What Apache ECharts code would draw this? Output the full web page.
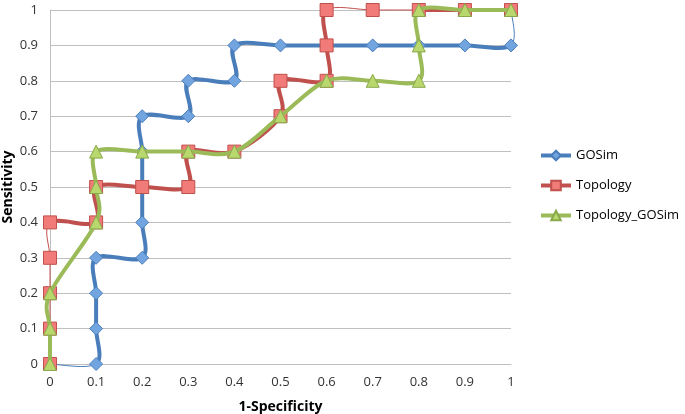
<!DOCTYPE html>
<html>
<head>
<meta charset="utf-8">
<script src="https://cdn.jsdelivr.net/npm/echarts@6/dist/echarts.min.js"></script>
<style>html,body{margin:0;padding:0;background:#fff;}#c{width:685px;height:414px;}</style>
</head>
<body>
<div id="c"></div>
<script>
var seriesNames = ['GOSim', 'Topology', 'Topology_GOSim'];
var gosim = [[0,0],[0.1,0],[0.1,0.1],[0.1,0.2],[0.1,0.3],[0.2,0.3],[0.2,0.4],[0.2,0.5],[0.2,0.6],[0.2,0.7],[0.3,0.7],[0.3,0.8],[0.4,0.8],[0.4,0.9],[0.5,0.9],[0.6,0.9],[0.7,0.9],[0.8,0.9],[0.9,0.9],[1,0.9],[1,1]];
var topology = [[0,0],[0,0.1],[0,0.2],[0,0.3],[0,0.4],[0.1,0.4],[0.1,0.5],[0.2,0.5],[0.3,0.5],[0.3,0.6],[0.4,0.6],[0.5,0.7],[0.5,0.8],[0.6,0.8],[0.6,0.9],[0.6,1],[0.7,1],[0.8,1],[0.9,1],[1,1]];
var topoGosim = [[0,0],[0,0.1],[0,0.2],[0.1,0.4],[0.1,0.5],[0.1,0.6],[0.2,0.6],[0.3,0.6],[0.4,0.6],[0.5,0.7],[0.6,0.8],[0.7,0.8],[0.8,0.8],[0.8,0.9],[0.8,1],[0.9,1],[1,1]];
// segments (by start index) that the reference draws with a hairline
var thinGosim = [0, 19];
var thinTopology = [0, 1, 2, 3, 15, 16];
var thinTopoGosim = [];

var chart = echarts.init(document.getElementById('c'));
var font = 'Open Sans, DejaVu Sans, sans-serif';
var colors = {
  GOSim: {line: '#4A7EBB', fill: '#72A5E0', border: '#4A7EBB'},
  Topology: {line: '#C0504D', fill: '#F07B78', border: '#C0504D'},
  Topology_GOSim: {line: '#9BBB59', fill: '#B8D86E', border: '#8AA84C'}
};

function curveSeries(name, data, thin, z) {
  var c = colors[name].line;
  return {
    name: name + '_curve', type: 'custom', z: z, silent: true,
    data: [[data[0][0], data[0][1]]],
    renderItem: function (params, api) {
      var p = data.map(function (d) { return api.coord(d); });
      var n = p.length, t = 1 / 6, kids = [];
      for (var i = 0; i < n - 1; i++) {
        var p0 = p[Math.max(i - 1, 0)], p1 = p[i], p2 = p[i + 1], p3 = p[Math.min(i + 2, n - 1)];
        kids.push({
          type: 'bezierCurve',
          shape: {
            x1: p1[0], y1: p1[1], x2: p2[0], y2: p2[1],
            cpx1: p1[0] + (p2[0] - p0[0]) * t, cpy1: p1[1] + (p2[1] - p0[1]) * t,
            cpx2: p2[0] - (p3[0] - p1[0]) * t, cpy2: p2[1] - (p3[1] - p1[1]) * t
          },
          style: {stroke: c, fill: null, lineWidth: thin.indexOf(i) >= 0 ? 1 : 4, lineCap: 'round'}
        });
      }
      return {type: 'group', children: kids};
    }
  };
}
function markerSeries(name, data, symbol, size, z) {
  var c = colors[name];
  return {
    name: name, type: 'line', data: data, z: z,
    symbol: symbol, symbolSize: size,
    lineStyle: {width: 0, color: c.line},
    itemStyle: {color: c.fill, borderColor: c.border, borderWidth: 1},
    emphasis: {disabled: true}
  };
}
chart.setOption({
  animation: false,
  textStyle: {fontFamily: font},
  grid: {left: 50, right: 174, top: 10, bottom: 50, outerBoundsMode: 'none', containLabel: false},
  legend: {
    orient: 'vertical', left: 534, top: 144, itemGap: 17,
    itemWidth: 30, itemHeight: 12,
    textStyle: {fontSize: 13, color: '#000', fontFamily: font},
    data: seriesNames.map(function (nm) {
      return {name: nm, lineStyle: {width: 4, color: colors[nm].line}};
    })
  },
  xAxis: {
    type: 'value', min: 0, max: 1, interval: 0.1,
    name: '1-Specificity', nameLocation: 'middle', nameGap: 36, nameMoveOverlap: false,
    nameTextStyle: {fontSize: 14, fontWeight: 'bold', color: '#000'},
    axisLine: {show: true, lineStyle: {color: '#BFBFBF'}},
    axisTick: {show: false},
    axisLabel: {fontSize: 13, color: '#333', margin: 12},
    splitLine: {show: false}
  },
  yAxis: {
    type: 'value', min: 0, max: 1, interval: 0.1,
    name: 'Sensitivity', nameLocation: 'middle', nameGap: 35, nameMoveOverlap: false,
    nameTextStyle: {fontSize: 14, fontWeight: 'bold', color: '#000'},
    axisLine: {show: true, lineStyle: {color: '#BFBFBF'}},
    axisTick: {show: false},
    axisLabel: {fontSize: 13, color: '#333', margin: 12},
    splitLine: {show: true, lineStyle: {color: '#C0C0C0'}}
  },
  series: [
    curveSeries('GOSim', gosim, thinGosim, 2),
    markerSeries('GOSim', gosim, 'diamond', 13, 3),
    curveSeries('Topology', topology, thinTopology, 4),
    markerSeries('Topology', topology, 'rect', 13, 5),
    curveSeries('Topology_GOSim', topoGosim, thinTopoGosim, 6),
    markerSeries('Topology_GOSim', topoGosim, 'triangle', 13, 7)
  ]
});
</script>
</body>
</html>
